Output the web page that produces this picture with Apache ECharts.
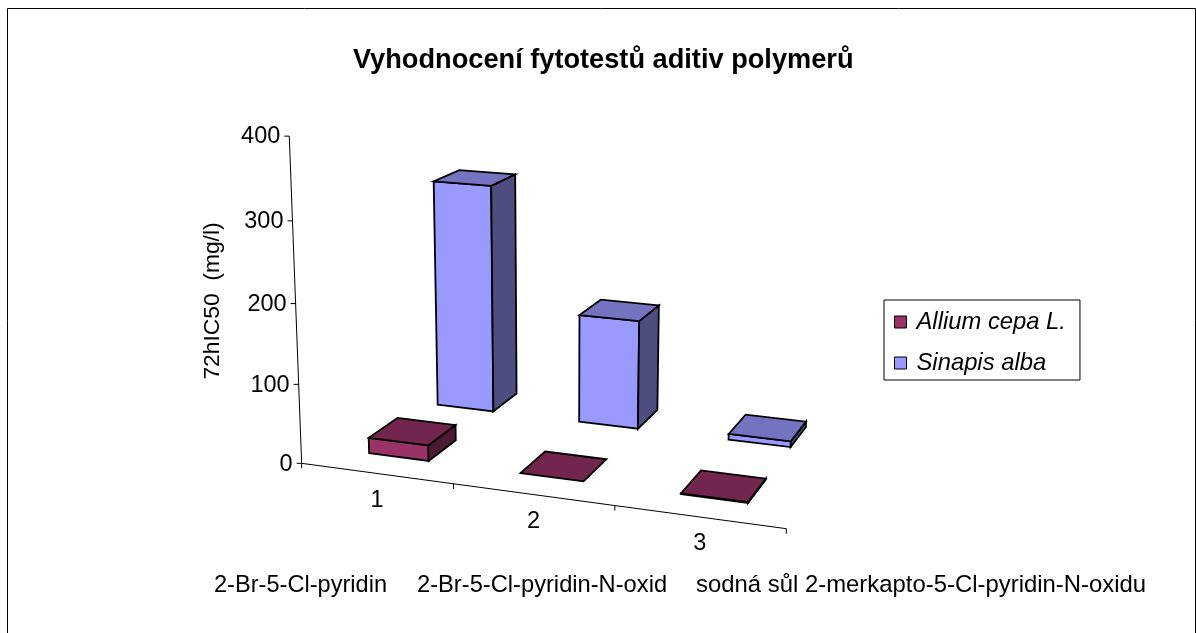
<!DOCTYPE html>
<html><head><meta charset="utf-8">
<style>html,body{margin:0;padding:0;background:#fff}#c{width:1196px;height:633px}</style>
<script src="https://cdn.jsdelivr.net/npm/echarts@6/dist/echarts.min.js"></script>
</head><body><div id="c"></div>
<script>
// --- data ---
const chartTitle = 'Vyhodnocení fytotestů aditiv polymerů';
const valueAxisTitle = '72hIC50  (mg/l)';
const categories = ['1', '2', '3'];
const compoundNames = ['2-Br-5-Cl-pyridin', '2-Br-5-Cl-pyridin-N-oxid', 'sodná sůl 2-merkapto-5-Cl-pyridin-N-oxidu'];
const valueTicks = [0, 100, 200, 300, 400];
const seriesNames = ['Allium cepa L.', 'Sinapis alba'];
const alliumValues = [20, 0, 1];
const sinapisValues = [302, 143, 7.5];

// --- styling / view ---
const FONT = '"Liberation Sans", Arial, sans-serif';
const TEXT_SIZE = 23.5;
const CAMERA = [138.79792, -6.406465, 105.995332, 301.659927,
                6.482084, -83.353687, -15.719092, 463.326212,
                -0.028936, -0.01144, 0.083022];
const alliumShades = { front: '#993366', top: '#73264D', side: '#4D1A33' };
const sinapisShades = { front: '#9999FF', top: '#7373BF', side: '#4D4D80' };
const BAR_FROM = 0.3, BAR_TO = 0.7;

function project(api, cat, value, depth) {
  const a = api.coord([0, 0]), b = api.coord([3, 400]), q = api.coord([cat, value]);
  const x = 3 * (q[0] - a[0]) / (b[0] - a[0]);
  const y = 4 * (q[1] - a[1]) / (b[1] - a[1]);
  const p = CAMERA, w = p[8] * x + p[9] * y + p[10] * depth + 1;
  return [(p[0] * x + p[1] * y + p[2] * depth + p[3]) / w,
          (p[4] * x + p[5] * y + p[6] * depth + p[7]) / w];
}
function face(points, fill) {
  return { type: 'polygon', shape: { points },
           style: { fill, stroke: '#000', lineWidth: 1.8, lineJoin: 'miter' } };
}
function barRenderer(row, shades) {
  return function (params, api) {
    const i = api.value(0), v = api.value(1);
    const x0 = i + BAR_FROM, x1 = i + BAR_TO, z0 = row + BAR_FROM, z1 = row + BAR_TO;
    const P = (x, y, z) => project(api, x, y, z);
    const children = [];
    if (v > 0) {
      children.push(face([P(x0, 0, z0), P(x1, 0, z0), P(x1, v, z0), P(x0, v, z0)], shades.front));
      children.push(face([P(x1, 0, z0), P(x1, 0, z1), P(x1, v, z1), P(x1, v, z0)], shades.side));
    }
    children.push(face([P(x0, v, z0), P(x1, v, z0), P(x1, v, z1), P(x0, v, z1)], shades.top));
    return { type: 'group', children };
  };
}
function line(a, b) {
  return { type: 'line', shape: { x1: a[0], y1: a[1], x2: b[0], y2: b[1] },
           style: { stroke: '#000', lineWidth: 1 } };
}
function label(text, x, y, align) {
  return { type: 'text', style: { text, x, y, align, verticalAlign: 'middle',
           font: TEXT_SIZE + 'px ' + FONT, fill: '#000' } };
}
function axesRenderer(params, api) {
  const P = (x, y) => project(api, x, y, 0);
  const children = [line(P(0, 0), P(0, 400)), line(P(0, 0), P(categories.length, 0))];
  valueTicks.forEach(t => {
    const p = P(0, t);
    children.push(line([p[0] - 5, p[1]], p));
    children.push(label(String(t), p[0] - 9, p[1] + 0.7, 'right'));
  });
  for (let i = 0; i <= categories.length; i++) {
    const p = P(i, 0);
    children.push(line(p, [p[0], p[1] + 5]));
  }
  categories.forEach((c, i) => {
    const p = P(i + 0.5, 0);
    children.push(label(c, p[0] + 0.5, p[1] + 27, 'center'));
  });
  return { type: 'group', children };
}
const toData = arr => arr.map((v, i) => [i, v]);
const compoundX = [214, 417, 696];
const compoundSize = [23.6, 23.7, 23.9];

const chart = echarts.init(document.getElementById('c'), null, { renderer: 'canvas' });
chart.setOption({
  animation: false,
  backgroundColor: '#fff',
  title: { text: chartTitle, left: 353, top: 47,
           textStyle: { fontFamily: FONT, fontWeight: 'bold', fontSize: 27.2, color: '#000' }, padding: 0 },
  grid: { left: 300, right: 400, top: 130, bottom: 170 },
  xAxis: { type: 'value', min: 0, max: 3, show: false },
  yAxis: { type: 'value', min: 0, max: 400, show: false },
  legend: {
    data: seriesNames, orient: 'vertical', left: 884, top: 300,
    padding: [10, 14, 5, 10], itemGap: 17, itemWidth: 12, itemHeight: 12, icon: 'rect',
    backgroundColor: '#fff', borderColor: '#000', borderWidth: 1, borderRadius: 0,
    itemStyle: { borderColor: '#000', borderWidth: 1 },
    textStyle: { fontFamily: FONT, fontStyle: 'italic', fontSize: 23.8, color: '#000', padding: [0, 0, 0, 5] }
  },
  graphic: [
    { type: 'polyline', silent: true, shape: { points: [[7.5, 633], [7.5, 8.5], [1195.5, 8.5], [1195.5, 633]] },
      style: { fill: 'none', stroke: '#000', lineWidth: 1 } },
    { type: 'text', x: 213, y: 301, rotation: Math.PI / 2,
      style: { text: valueAxisTitle, align: 'center', verticalAlign: 'middle', font: '22.8px ' + FONT, fill: '#000' } },
    ...compoundNames.map((t, i) => ({ type: 'text', x: compoundX[i], y: 585,
      style: { text: t, align: 'left', verticalAlign: 'middle', font: compoundSize[i] + 'px ' + FONT, fill: '#000' } }))
  ],
  series: [
    { type: 'custom', name: 'axes', silent: true, clip: false, renderItem: axesRenderer, data: [[0, 0]], encode: { x: 0, y: 1 }, z: 1 },
    { type: 'custom', name: seriesNames[1], clip: false, renderItem: barRenderer(1, sinapisShades), data: toData(sinapisValues),
      encode: { x: 0, y: 1 }, itemStyle: { color: sinapisShades.front }, z: 2 },
    { type: 'custom', name: seriesNames[0], clip: false, renderItem: barRenderer(0, alliumShades), data: toData(alliumValues),
      encode: { x: 0, y: 1 }, itemStyle: { color: alliumShades.front }, z: 3 }
  ]
});
</script></body></html>
